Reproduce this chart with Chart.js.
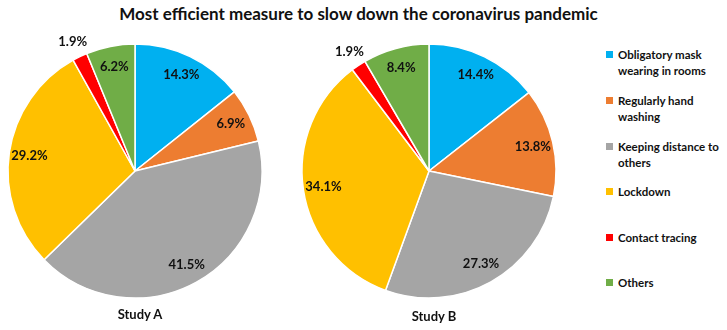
<!DOCTYPE html>
<html>
<head>
<meta charset="utf-8">
<script src="https://cdn.jsdelivr.net/npm/chart.js@4.4.0/dist/chart.umd.min.js"></script>
<style>
  body { margin: 0; width: 727px; height: 330px; background: #fff; position: relative; overflow: hidden;
         font-family: Lato, "Open Sans", sans-serif; color: #111; }
  #title { position: absolute; left: 0; width: 717px; top: 3px; text-align: center;
           font-weight: bold; font-size: 17px; }
  canvas { position: absolute; }
  .study { position: absolute; font-weight: bold; font-size: 13px; width: 100px; text-align: center; }
  #legend { position: absolute; left: 606px; top: 47px; font-weight: bold; font-size: 11.5px; line-height: 15.5px; }
  .item { position: absolute; left: 0; width: 120px; }
  .sw { position: absolute; left: 0; top: 4px; width: 7px; height: 7px; }
  .txt { position: absolute; left: 12px; white-space: nowrap; }
</style>
</head>
<body>
<div id="title">Most efficient measure to slow down the coronavirus pandemic</div>
<canvas id="pieA" width="270" height="282" style="left:0;top:30px"></canvas>
<canvas id="pieB" width="270" height="282" style="left:294px;top:30px"></canvas>
<div class="study" style="left:90px;top:306px">Study A</div>
<div class="study" style="left:384px;top:308px">Study B</div>
<div id="legend"></div>
<script>
// Categories and values
const measures = [
    ['Obligatory mask', 'wearing in rooms'],
    ['Regularly hand', 'washing'],
    ['Keeping distance to', 'others'],
    ['Lockdown'],
    ['Contact tracing'],
    ['Others']
];
const studyA = [14.3, 6.9, 41.5, 29.2, 1.9, 6.2];
const studyB = [14.4, 13.8, 27.3, 34.1, 1.9, 8.4];
const colors = ['#00B0F0', '#ED7D31', '#A5A5A5', '#FFC000', '#FF0000', '#70AD47'];
const legendTops = [0, 46, 92, 137, 183, 228];

// Percent labels inside the slices, small ones pushed outside
const sliceLabels = {
    id: 'sliceLabels',
    afterDatasetsDraw(chart) {
        const ctx = chart.ctx;
        const ds = chart.data.datasets[0];
        ctx.save();
        ctx.font = 'bold 13px Lato, "Open Sans", sans-serif';
        ctx.fillStyle = '#111';
        ctx.textAlign = 'center';
        ctx.textBaseline = 'middle';
        chart.getDatasetMeta(0).data.forEach((arc, i) => {
            const p = arc.getProps(['x', 'y', 'startAngle', 'endAngle', 'outerRadius'], true);
            const mid = (p.startAngle + p.endAngle) / 2;
            const r = p.outerRadius * (ds.data[i] < 3 ? 1.13 : 0.84);
            ctx.fillText(ds.data[i].toFixed(1) + '%', p.x + Math.cos(mid) * r, p.y + Math.sin(mid) * r);
        });
        ctx.restore();
    }
};

function makePie(id, values) {
    return new Chart(document.getElementById(id), {
        type: 'pie',
        data: {
            labels: measures.map(m => m.join(' ')),
            datasets: [{
                data: values,
                backgroundColor: colors,
                borderColor: '#ffffff',
                borderWidth: 1.5
            }]
        },
        options: {
            responsive: false,
            animation: false,
            radius: 127,
            layout: { padding: 0 },
            plugins: { legend: { display: false }, tooltip: { enabled: false } }
        },
        plugins: [sliceLabels]
    });
}

makePie('pieA', studyA);
makePie('pieB', studyB);

// Shared legend
const legend = document.getElementById('legend');
measures.forEach((lines, i) => {
    const item = document.createElement('div');
    item.className = 'item';
    item.style.top = legendTops[i] + 'px';
    item.innerHTML = '<div class="sw" style="background:' + colors[i] + '"></div>' +
        '<div class="txt">' + lines.join('<br>') + '</div>';
    legend.appendChild(item);
});
</script>
</body>
</html>
